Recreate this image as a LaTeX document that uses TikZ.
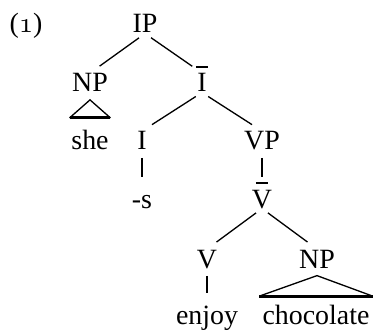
\documentclass[tikz,border=0pt]{standalone}
\usepackage{amsmath}
\usepackage{fontspec}
\setmainfont{Liberation Serif}
\newcommand{\barcat}[1]{\setbox0\hbox{#1}\hbox{\rlap{\hbox to\wd0{\hss\raisebox{9.1pt}{\rule{4.6pt}{0.8pt}}\hss}}\box0}}

\begin{document}
\begin{tikzpicture}[
x=0.38pt, y=-0.38pt,
cat/.style={inner sep=0pt, anchor=base, text height=7pt, text depth=0pt, font=\fontsize{10.6}{12}\selectfont},
branch/.style={line width=0.5pt, shorten <=2.8pt, shorten >=4.5pt},
roof/.style={line width=0.5pt},
roofbase/.style={line width=1.1pt}
]
\useasboundingbox (0,0) rectangle (373,331);
\node[cat] (ex) at (26,33) {({\usefont{OML}{cmm}{m}{it}1})};
\node[cat] (ip) at (145,33) {IP};
\node[cat] (np) at (90,92) {NP};
\node[cat] (ibar) at (202,92) {\barcat{I}};
\node[cat] (she) at (90,150) {she};
\node[cat] (infl) at (142,150) {I};
\node[cat] (vp) at (262,150) {VP};
\node[cat] (affix) at (142,208) {-s};
\node[cat] (vbar) at (262,208) {\barcat{V}};
\node[cat] (verb) at (207,268) {V};
\node[cat] (obj) at (317,268) {NP};
\node[cat] (enjoy) at (207,324) {enjoy};
\node[cat] (choc) at (316,324) {chocolate};
\draw[branch] (ip.south) -- (np.north);
\draw[branch] (ip.south) -- (ibar.north);
\draw[branch] (ibar.south) -- (infl.north);
\draw[branch] (ibar.south) -- (vp.north);
\draw[branch] (infl.south) -- (affix.north);
\draw[branch] (vp.south) -- (vbar.north);
\draw[branch] (vbar.south) -- (verb.north);
\draw[branch] (vbar.south) -- (obj.north);
\draw[branch] (verb.south) -- (enjoy.north);
% roofs
\draw[roof] ([xshift=-0.5pt,yshift=5pt]she.north west) -- ([yshift=-2.8pt]np.south) -- ([xshift=0.5pt,yshift=5pt]she.north east);
\draw[roofbase] ([xshift=-0.5pt,yshift=5pt]she.north west) -- ([xshift=0.5pt,yshift=5pt]she.north east);
\draw[roof] ([xshift=-1pt,yshift=3.4pt]choc.north west) -- ([yshift=-2.7pt]obj.south) -- ([xshift=1pt,yshift=3.4pt]choc.north east);
\draw[roofbase] ([xshift=-1pt,yshift=3.4pt]choc.north west) -- ([xshift=1pt,yshift=3.4pt]choc.north east);
\end{tikzpicture}
\end{document}
